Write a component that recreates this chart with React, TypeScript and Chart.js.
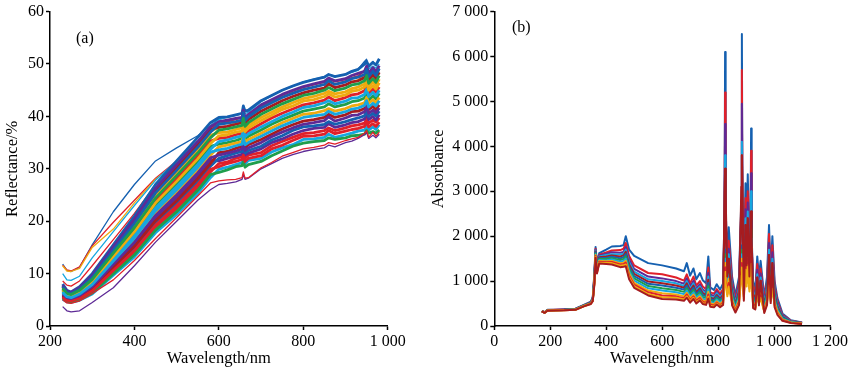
import React, { useEffect, useRef } from "react";
import { Chart, registerables } from "chart.js";

Chart.register(...registerables);

const PALETTE = ["#1560B0", "#E0202A", "#EFAA10", "#5E2A96", "#1F9E4B", "#16A7E0", "#A61C20"];
const SERIF = "'Liberation Serif', serif";

const WL_A = [230,240,250,270,300,350,400,450,500,550,580,600,620,640,655,658,662,670,700,725,750,775,800,825,850,860,875,900,915,930,945,950,955,965,972,980];

const A_BAND_01 = [5.1,4.6,4.5,4.9,6.1,9.7,13.2,17.8,21.3,25.3,28.3,29.9,30.3,30.8,31.2,32,30.9,31.6,32,33.2,34,34.6,35.6,35.7,36,36.6,36,36.5,36.8,37.2,37.4,38.2,37.4,38,37.5,38.4];
const A_BAND_02 = [5.3,4.7,4.6,5,6.3,10,13.6,18.3,21.8,25.9,28.9,29.3,29.8,30.4,30.6,31.4,30.3,30.8,31.4,32.5,33.4,34.3,34.9,35.2,35.4,35.9,35.6,35.9,36.3,36.4,36.6,37.3,36.8,37.1,36.8,37.4];
const A_BAND_03 = [5.4,4.8,4.7,5.1,6.5,10.3,14,18.7,22.4,26.4,29.4,31,31.3,32,32.3,33.1,32,32.6,33.1,34.4,35.2,36,36.7,36.9,37.3,37.8,37.3,37.8,38.2,38.4,38.7,39.6,38.7,39.3,38.9,39.7];
const A_BAND_04 = [5.5,4.9,4.8,5.3,6.7,10.6,14.4,19.2,22.9,27,29.9,30.4,31,31.4,31.8,32.6,31.4,32,32.5,33.8,34.5,35.4,36.2,36.3,36.6,37.3,36.7,37.2,37.5,37.7,38.1,38.9,38,38.6,38.1,38.9];
const A_BAND_05 = [5.7,5,4.9,5.4,6.9,10.9,14.8,19.7,23.4,27.5,30.5,32,32.5,33,33.3,34.3,33,33.5,34.3,35.5,36.3,37.3,38,38.2,38.5,39,38.5,39,39.4,39.7,40.1,41,40,40.6,40.1,41];
const A_BAND_06 = [5.8,5.1,5,5.6,7.1,11.2,15.2,20.1,23.9,28.1,31,33.1,33.3,33.9,34.3,35.3,34,34.6,35.6,36.6,37.6,38.4,39.1,39.4,39.8,40.4,39.8,40.3,40.9,41,41.5,42.4,41.3,41.9,41.3,42.2];
const A_BAND_07 = [6,5.3,5.1,5.7,7.3,11.5,15.6,20.6,24.5,28.6,31.6,31.5,32,32.4,32.8,33.8,32.6,33,33.8,35,35.7,36.6,37.3,37.7,37.9,38.6,37.9,38.4,38.8,39,39.5,40.4,39.4,40,39.3,40.3];
const A_BAND_08 = [6.1,5.4,5.2,5.8,7.5,11.8,16,21.1,25,29.2,32.1,32.6,33,33.4,33.8,34.9,33.5,34,35,36.1,37,37.8,38.5,38.8,39.2,39.9,39.1,39.7,40.2,40.3,40.9,41.8,40.6,41.2,40.7,41.6];
const A_BAND_09 = [6.3,5.5,5.3,6,7.7,12.1,16.4,21.6,25.5,29.7,32.6,34.2,34.5,34.9,35.2,36.4,35.1,35.6,36.8,37.8,38.8,39.6,40.4,40.6,41.1,41.5,41,41.5,42,42.2,42.6,43.6,42.5,43.2,42.6,43.6];
const A_BAND_10 = [6.4,5.6,5.4,6.1,7.9,12.4,16.8,22,26,30.3,33.2,33.6,33.9,34.4,34.7,35.9,34.6,35,36.2,37.2,38.2,39,39.8,40.1,40.4,41,40.4,40.9,41.4,41.6,42.1,43,41.8,42.5,42,43];
const A_BAND_11 = [6.6,5.7,5.5,6.2,8.1,12.7,17.2,22.5,26.6,30.8,33.7,35.2,35.5,36,36.3,37.6,36.1,36.7,38,39,40,40.8,41.7,42,42.6,43,42.4,42.9,43.5,43.6,44.2,45.2,43.8,44.6,43.9,45];
const A_BAND_12 = [6.7,5.8,5.6,6.4,8.3,13,17.6,23,27.1,31.4,34.3,34.7,35,35.4,35.8,36.9,35.6,36.2,37.4,38.5,39.4,40.2,41,41.4,41.8,42.4,41.8,42.3,42.8,43,43.5,44.6,43.1,43.9,43.3,44.4];
const A_BAND_13 = [6.9,6,5.7,6.5,8.5,13.3,18,23.5,27.6,31.9,34.8,36.3,36.5,37,37.2,38.6,37.1,37.8,39.2,40.2,41.3,42,42.9,43.2,43.8,44.3,43.7,44.1,44.8,45,45.6,46.5,45,45.9,45.2,46.4];
const A_BAND_14 = [7,6.1,5.8,6.6,8.7,13.6,18.4,23.9,28.1,32.5,35.3,35.8,36,36.5,36.8,38,36.6,37.2,38.6,39.7,40.6,41.4,42.2,42.6,43.1,43.7,43,43.6,44.1,44.3,44.9,45.8,44.4,45.2,44.6,45.6];
const A_BAND_15 = [7.2,6.2,6,6.8,8.9,13.9,18.8,24.4,28.7,33,35.9,37.4,37.6,38,38.3,39.6,38.1,38.8,40.4,41.4,42.4,43.2,44,44.4,45,45.5,44.9,45.4,46,46.2,46.8,47.8,46.3,47.2,46.5,47.8];
const A_BAND_16 = [7.3,6.3,6.1,6.9,9.1,14.2,19.2,24.9,29.2,33.6,36.4,36.9,37,37.5,37.8,39.1,37.6,38.3,39.8,40.8,41.8,42.6,43.4,43.8,44.4,44.8,44.3,44.7,45.3,45.6,46.2,47.1,45.7,46.6,45.9,47.1];
const A_BAND_17 = [7.5,6.4,6.2,7,9.3,14.5,19.6,25.4,29.7,34.1,37,38.5,38.7,39,39.3,40.7,39.2,39.9,41.6,42.6,43.6,44.4,45.1,45.6,46.1,46.8,46.1,46.6,47.2,47.5,48,49,47.6,48.6,47.8,49.1];
const A_BAND_18 = [7.6,6.5,6.3,7.2,9.5,14.8,20,25.8,30.2,34.7,37.5,37.9,38.1,38.5,38.8,40.1,38.6,39.4,41,42,43,43.8,44.5,45,45.4,46.2,45.5,46,46.6,46.8,47.4,48.4,46.9,47.9,47.2,48.4];
const A_BAND_19 = [7.8,6.6,6.4,7.3,9.7,15.1,20.4,26.3,30.8,35.2,38,39,39.3,39.6,39.8,41.2,39.8,40.4,42.2,43.2,44.2,45,45.7,46.2,46.7,47.3,46.8,47.2,47.8,48.2,48.6,49.6,48.2,49.3,48.5,49.7];
const A_BAND_20 = [8,6.8,6.5,7.5,10,15.5,21,27,31.5,36,38.8,39.8,39.9,40.3,40.6,42,41,41.2,43,44,45,45.8,46.5,47,47.5,48,47.6,48,48.6,49,50,50.5,49.6,50.3,49.8,51];

const A_OUT_BLUE = [11.8,10.6,10.4,11.2,15.5,21.8,27,31.5,34,36.3,38.2,39.5,39.8,40.2,40.5,41.8,41,41,43,44,45,45.8,46.5,47,47.4,48,47.6,48,48.5,49,50.5,50.9,49.3,50.5,49.8,50.8];
const A_OUT_RED = [11.6,10.7,10.5,11.3,15.3,19.8,24,28.2,31.5,35,37.8,38.6,39,39.4,39.7,40.8,39.8,40.2,41.8,42.8,43.8,44.6,45.2,45.6,46,46.6,46.2,46.8,47.2,47.6,48.8,49.2,47.9,48.9,48.3,49.2];
const A_OUT_AMBER = [11.5,10.5,10.4,11,15,18.5,23.5,28,31,34.5,37,37.8,38.2,38.8,39,40.1,39,39.5,41,42,43,43.8,44.5,45,45.5,46,45.5,46,46.5,47,48,48.6,47.2,48.2,47.5,48.5];
const A_OUT_CYAN = [10,8.8,8.7,9.5,13,18,23,27.8,31.5,35.2,38,39.4,39.9,40.3,40.6,41.4,40.5,40.8,42.8,43.9,45,45.7,46.6,47.1,47.6,48,47.7,48,48.4,48.8,49.8,50.2,49,49.6,49.2,50];
const A_OUT_RED2 = [8.6,7.8,7.6,8.6,11.5,16.5,21.5,27,31,35,37.5,38.6,39,39.5,39.8,40.9,39.7,40,42,43,44,44.8,45.5,46,46.5,47,46.6,47,47.4,47.8,48.6,49.1,48.1,48.8,48.3,49.1];
const A_OUT_PURPLE = [3.7,2.9,2.7,2.9,4.5,7.3,11.5,16,20,24,26,27,27.2,27.5,28,28.9,28,28.2,30,31,32,32.7,33.3,33.7,34,34.5,34.2,35,35.3,35.8,36.5,36.9,35.8,36.4,35.9,36.6];
const A_OUT_RED3 = [5,4.4,4.3,4.8,6.2,8.8,12.5,16.7,20.7,24.8,27.3,27.7,27.9,28,28.3,29.4,28.2,28.3,30.2,31.2,32.4,33.1,33.8,34.1,34.5,35,34.7,35.4,35.7,36,36.8,37.3,36,37,36.2,37];

const A_BANDS = [A_BAND_20,A_BAND_03,A_BAND_16,A_BAND_07,A_BAND_12,A_BAND_01,A_BAND_18,A_BAND_05,A_BAND_14,A_BAND_09,A_BAND_19,A_BAND_02,A_BAND_11,A_BAND_06,A_BAND_17,A_BAND_04,A_BAND_13,A_BAND_08,A_BAND_15,A_BAND_10];
const A_OUTLIERS = [A_OUT_BLUE,A_OUT_RED,A_OUT_AMBER,A_OUT_CYAN,A_OUT_RED2,A_OUT_PURPLE,A_OUT_RED3];

const WL_B = [170,180,190,250,290,320,345,352,358,362,367,375,400,420,450,462,470,482,500,550,600,650,678,688,700,712,722,735,745,757,765,772,785,795,807,818,823,825,827,833,838,850,862,875,883,885,887,892,898,902,906,912,916,918,920,925,933,940,946,952,965,975,982,988,994,1002,1012,1030,1060,1100];

const B_01 = [340,300,360,370,385,470,540,640,1200,1760,1400,1620,1700,1770,1780,1800,2000,1700,1560,1400,1350,1280,1220,1400,1120,1280,1040,1180,1020,950,1550,860,800,930,810,950,2600,6100,2600,1500,2200,1100,680,1100,2800,6500,2800,1300,3180,2100,3380,1700,2300,4400,2000,1000,800,1550,1100,1450,650,1100,2250,1200,2000,1000,620,280,130,80];
const B_02 = [335,310,355,368,380,465,530,620,1150,1720,1350,1590,1640,1680,1690,1720,1850,1560,1350,1180,1150,1080,1010,1150,950,1100,900,1000,880,820,1300,750,720,820,720,820,2500,5200,2500,1350,1900,980,600,980,2700,5700,2700,1150,2850,1850,3000,1500,2200,3900,1900,900,720,1380,980,1280,590,980,2050,1080,1800,900,560,250,120,75];
const B_03 = [330,305,352,365,378,460,525,610,1120,1700,1330,1570,1610,1640,1630,1650,1760,1480,1270,1100,1060,1000,940,1060,880,1010,830,930,810,760,1180,700,670,770,670,770,2400,4500,2400,1230,1720,900,550,900,2600,4950,2600,1050,2600,1680,2750,1380,2100,3400,1800,820,660,1250,890,1170,540,900,1850,1000,1640,830,510,230,110,70];
const B_04 = [332,300,350,362,376,458,520,600,1100,1680,1310,1550,1580,1600,1590,1610,1700,1420,1210,1040,1000,950,890,1000,830,950,790,880,770,720,1100,660,630,730,640,730,2300,3800,2300,1130,1600,840,510,840,2500,4100,2500,980,2400,1550,2550,1280,2000,3000,1700,760,620,1150,830,1080,500,840,1700,930,1500,770,470,215,105,68];
const B_05 = [328,298,348,360,374,455,515,590,1080,1660,1290,1530,1550,1570,1550,1570,1650,1370,1160,990,950,900,850,950,790,900,750,840,730,690,1030,630,600,690,610,690,2300,3500,2200,1050,1500,790,480,790,2500,3800,2400,920,2250,1450,2400,1200,2000,2550,1650,710,580,1080,780,1010,470,790,1580,870,1400,720,440,200,100,65];
const B_06 = [330,302,350,362,372,452,512,585,1060,1640,1270,1510,1520,1540,1510,1530,1600,1320,1110,940,900,850,810,900,750,850,710,800,690,660,960,600,570,660,580,660,1400,1700,1350,980,1380,740,450,740,1500,1800,1400,870,2050,1350,2200,1120,1800,2350,1500,660,540,1000,730,940,440,740,1450,810,1300,670,410,190,95,62];
const B_07 = [326,300,347,358,370,450,508,580,1040,1620,1250,1490,1490,1510,1470,1490,1550,1270,1060,890,840,800,760,840,700,800,670,750,650,620,890,570,540,620,550,620,1350,1600,1280,900,1260,690,420,690,1450,1700,1350,820,1880,1250,2000,1050,1650,2150,1400,610,500,930,680,870,410,690,1330,750,1200,620,380,175,90,60];
const B_08 = [328,296,345,356,368,448,505,575,1020,1600,1235,1470,1460,1480,1430,1450,1500,1220,1010,840,790,750,710,790,660,750,630,700,610,580,820,540,510,590,520,590,1280,1500,1200,830,1150,640,390,640,1350,1600,1260,760,1700,1150,1800,980,1500,1950,1300,570,470,860,630,800,380,640,1220,700,1100,570,350,160,85,58];
const B_09 = [325,298,344,354,366,445,500,570,1000,1580,1220,1450,1440,1450,1400,1410,1450,1170,960,790,730,700,660,740,620,700,590,660,570,545,760,510,480,550,490,555,1200,1400,1100,770,1050,590,360,590,1300,1500,1180,700,1550,1050,1650,900,1350,1750,1200,530,440,790,590,740,350,590,1100,640,1000,520,320,145,80,55];
const B_10 = [328,295,343,352,364,443,498,565,980,1560,1200,1430,1420,1425,1370,1380,1410,1120,920,750,680,660,620,700,580,660,560,620,540,510,700,480,450,520,460,520,1120,1300,1030,710,960,540,340,540,1200,1400,1100,650,1400,960,1500,830,1200,1550,1100,490,410,730,540,680,330,550,1000,590,910,480,290,135,75,52];
const B_11 = [326,297,342,350,362,440,495,560,960,1540,1185,1410,1400,1400,1340,1350,1370,1080,880,710,640,630,590,660,550,630,530,590,510,490,650,450,430,500,440,495,1050,1200,950,660,880,500,320,500,1120,1300,1020,600,1250,880,1350,770,1100,1380,1000,450,390,670,500,630,310,510,900,550,830,450,270,125,70,50];
const B_12 = [324,294,340,348,360,438,490,555,940,1520,1170,1390,1380,1370,1310,1320,1330,1040,850,680,600,590,560,630,520,600,500,570,490,470,610,430,415,480,420,470,2900,3500,2900,1100,1500,460,300,470,3100,3800,3100,560,2250,1350,2400,1100,2200,2550,2000,400,370,1080,460,1010,290,470,1580,510,1400,420,250,115,65,45];

const B_SERIES = [B_01,B_02,B_03,B_04,B_05,B_06,B_07,B_08,B_09,B_10,B_11,B_12];
const B_COLORS = ["#1560B0","#E0202A","#5E2A96","#16A7E0","#A61C20","#1560B0","#1F9E4B","#16A7E0","#EFAA10","#E0202A","#EFAA10","#A61C20"];

const spaced = (v: number) => (v >= 1000 ? `${Math.floor(v / 1000)} ${String(v % 1000).padStart(3, "0")}` : String(v));

function ds(xs: number[], ys: number[], color: string, width: number) {
  return {
    data: xs.map((x, i) => ({ x, y: ys[i] })),
    borderColor: color,
    backgroundColor: color,
    borderWidth: width,
    pointRadius: 0,
    tension: 0,
    fill: false,
    borderJoinStyle: "round" as const,
  };
}

function makeOptions(cfg: any) {
  const font = { family: SERIF, size: 16 };
  const titleFont = { family: SERIF, size: 16.5 };
  const axisCommon = {
    type: "linear",
    border: { color: "#000", width: 1.5 },
    grid: { drawOnChartArea: false, drawTicks: true, tickLength: 4, tickColor: "#000", tickWidth: 1.5 },
  };
  return {
    responsive: false,
    animation: false,
    layout: { padding: { top: 11.3, right: cfg.right, left: 0, bottom: 0 } },
    plugins: { legend: { display: false }, tooltip: { enabled: false } },
    scales: {
      x: {
        ...axisCommon,
        min: cfg.xMin,
        max: cfg.xMax,
        afterFit: (s: any) => { s.height = 43; },
        ticks: { stepSize: 200, autoSkip: false, maxRotation: 0, padding: 2, color: "#000", font, callback: (v: number) => spaced(v) },
        title: { display: true, text: "Wavelength/nm", color: "#000", font: titleFont, padding: { top: 0, bottom: 0 } },
      },
      y: {
        ...axisCommon,
        min: 0,
        max: cfg.yMax,
        afterFit: (s: any) => { s.width = cfg.yWidth; },
        ticks: { stepSize: cfg.yStep, autoSkip: false, padding: 2, color: "#000", font, callback: (v: number) => spaced(v) },
        title: { display: true, text: cfg.yTitle, color: "#000", font: titleFont, padding: { top: cfg.yTitlePad, bottom: 0 } },
      },
    },
  };
}

export default function App() {
  const aRef = useRef<HTMLCanvasElement>(null);
  const bRef = useRef<HTMLCanvasElement>(null);

  useEffect(() => {
    // Chart.js paints the first dataset last, so each list is reversed to put later series on top.
    const aSets = [
      ...A_OUTLIERS.slice(0, 5).map((s, i) => ds(WL_A, s, [PALETTE[0], PALETTE[1], PALETTE[2], PALETTE[5], PALETTE[1]][i], 1.3)),
      ...A_BANDS.map((s, i) => ds(WL_A, s, PALETTE[i % PALETTE.length], 2.8)),
      ds(WL_A, A_OUT_PURPLE, PALETTE[3], 1.3),
      ds(WL_A, A_OUT_RED3, PALETTE[1], 1.3),
    ].reverse();
    const bSets = B_SERIES.map((s, i) => ds(WL_B, s, B_COLORS[i], 2)).reverse();
    const chartA = new Chart(aRef.current!, {
      type: "line",
      data: { datasets: aSets },
      options: makeOptions({ right: 32.3, xMin: 200, xMax: 1000, yMax: 60, yStep: 10, yWidth: 50, yTitle: "Reflectance/%", yTitlePad: 2.4 }) as any,
    } as any);
    const chartB = new Chart(bRef.current!, {
      type: "line",
      data: { datasets: bSets },
      options: makeOptions({ right: 18.3, xMin: 0, xMax: 1200, yMax: 7000, yStep: 1000, yWidth: 74.3, yTitle: "Absorbance", yTitlePad: 8.4 }) as any,
    } as any);
    return () => { chartA.destroy(); chartB.destroy(); };
  }, []);

  const label: React.CSSProperties = { position: "absolute", font: `16px/18px ${SERIF}`, color: "#000" };
  return (
    <div style={{ position: "absolute", left: 0, top: 0, width: 850, height: 369, overflow: "hidden", background: "#fff" }}>
      <canvas ref={aRef} width={420} height={369} style={{ position: "absolute", left: 0, top: 0 }} />
      <canvas ref={bRef} width={430} height={369} style={{ position: "absolute", left: 420, top: 0 }} />
      <div style={{ ...label, left: 76, top: 29 }}>(a)</div>
      <div style={{ ...label, left: 512, top: 18 }}>(b)</div>
    </div>
  );
}
